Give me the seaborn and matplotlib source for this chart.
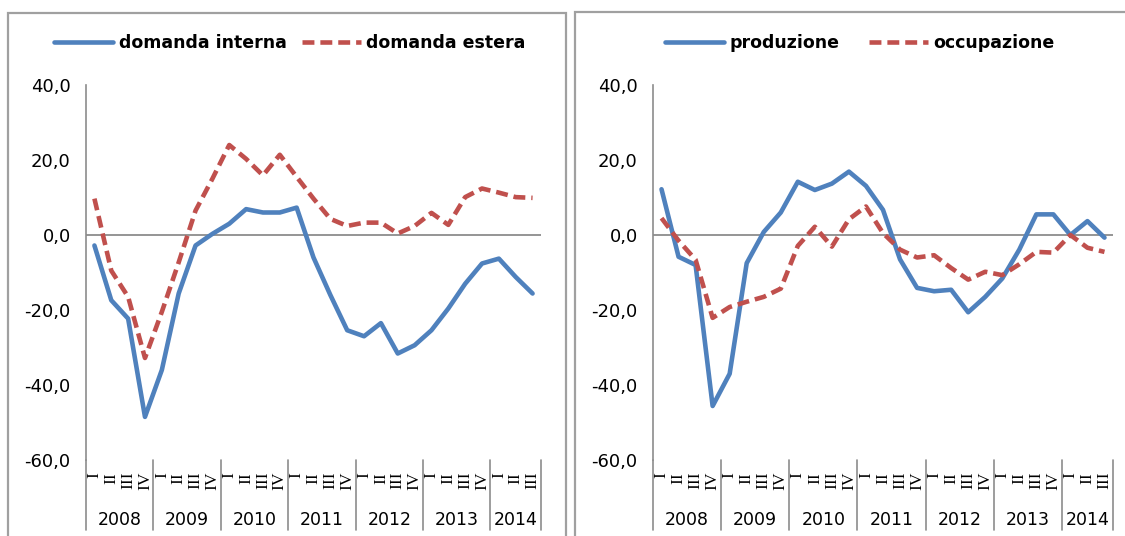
import numpy as np
import pandas as pd
import matplotlib
matplotlib.use("Agg")
import matplotlib.pyplot as plt
import matplotlib.transforms as mtransforms
from matplotlib.patches import Rectangle
from matplotlib.lines import Line2D
import seaborn as sns

# ---------------- data ----------------
years = ["2008", "2009", "2010", "2011", "2012", "2013", "2014"]
quarters_per_year = [4, 4, 4, 4, 4, 4, 3]
quarter_labels = ["I", "II", "III", "IV"] * 6 + ["I", "II", "III"]

domanda_interna = [-2.8, -17.4, -22.3, -48.5, -36.0, -15.6, -2.8, 0.3, 3.0, 6.9, 6.0, 6.0, 7.3, -6.0,
                   -16.0, -25.4, -27.0, -23.5, -31.6, -29.4, -25.4, -19.6, -13.0, -7.6, -6.3, -11.2, -15.6]
domanda_estera = [9.7, -9.5, -16.5, -32.8, -20.5, -7.3, 6.5, 15.0, 24.0, 20.3, 15.9, 21.4, 15.5, 9.7,
                  4.3, 2.4, 3.3, 3.3, 0.4, 2.4, 5.9, 2.7, 10.1, 12.4, 11.3, 10.1, 9.9]
produzione = [12.2, -5.8, -8.0, -45.6, -37.0, -7.5, 0.8, 6.0, 14.2, 12.0, 13.7, 16.9, 13.1, 6.7,
              -6.5, -14.1, -15.0, -14.6, -20.6, -16.5, -11.6, -3.9, 5.5, 5.5, 0.0, 3.7, -0.7]
occupazione = [4.5, -1.5, -6.6, -22.1, -19.2, -17.8, -16.5, -14.3, -2.9, 2.2, -3.1, 4.2, 7.6, 0.5,
               -3.9, -6.0, -5.4, -8.8, -11.9, -9.8, -10.7, -7.8, -4.5, -4.7, 0.0, -3.4, -4.5]

y_ticks = [-60, -40, -20, 0, 20, 40]

BLUE = "#4F81BD"
RED = "#C0504D"
GRID = "#8C8C8C"
FRAME = "#A0A0A0"

sns.set_theme(style="white")
plt.rcParams["font.family"] = ["DejaVu Sans"]
plt.rcParams["axes.unicode_minus"] = False
plt.rcParams["text.color"] = "black"

W, H = 1125, 536
fig = plt.figure(figsize=(W / 100, H / 100), dpi=100)
fig.patch.set_facecolor("white")


def rect(x0, x1, ytop, ybot):
    return [x0 / W, 1 - ybot / H, (x1 - x0) / W, (ybot - ytop) / H]


# panel frames
fig.add_artist(Rectangle((8 / W, -0.05), (566 - 8) / W, 1 + 0.05 - 13 / H,
                         transform=fig.transFigure, fill=False, ec=FRAME, lw=1.6))
fig.add_artist(Rectangle((575 / W, -0.05), 0.6, 1 + 0.05 - 12 / H,
                         transform=fig.transFigure, fill=False, ec=FRAME, lw=1.6))

ax1 = fig.add_axes(rect(86, 541, 85, 460))
ax2 = fig.add_axes(rect(653, 1113, 85, 460))

DASH = (2.6, 1.3)
LW = 3.3


def draw_panel(ax, s1, s2, n1, n2, legend_center, colspacing):
    x = np.arange(len(s1))
    df = pd.DataFrame({
        "q": np.concatenate([x, x]),
        "v": list(s1) + list(s2),
        "serie": [n1] * len(s1) + [n2] * len(s2),
    })
    sns.lineplot(data=df, x="q", y="v", hue="serie", style="serie",
                 palette={n1: BLUE, n2: RED}, dashes={n1: "", n2: DASH},
                 linewidth=LW, ax=ax, legend=False, zorder=3)
    ax.axhline(0, color=GRID, lw=1.3, zorder=1)

    ax.set_ylim(-60, 40)
    ax.set_yticks(y_ticks)
    ax.set_yticklabels([f"{v:.1f}".replace(".", ",") for v in y_ticks], fontsize=13, color="black")
    ax.set_xticks(x)
    ax.set_xticklabels(quarter_labels, rotation=90, fontsize=12.5,
                       family=["Liberation Serif"], color="black")
    ax.tick_params(axis="both", length=0)
    ax.tick_params(axis="y", pad=11)
    ax.tick_params(axis="x", pad=8.5)
    ax.set_xlabel("")
    ax.set_ylabel("")

    for s in ["top", "right", "bottom"]:
        ax.spines[s].set_visible(False)
    ax.spines["left"].set_color(GRID)
    ax.spines["left"].set_linewidth(1.2)

    # multi-level category separators and year labels
    bounds = np.concatenate([[0], np.cumsum(quarters_per_year)]) - 0.5
    for b in bounds:
        ax.axvline(b, ymin=-0.187, ymax=0.0, clip_on=False, color=GRID, lw=1.2)
    trans = mtransforms.blended_transform_factory(ax.transData, ax.transAxes)
    for i, yr in enumerate(years):
        c = (bounds[i] + bounds[i + 1]) / 2
        ax.text(c, -0.16, yr, transform=trans, ha="center", va="center",
                fontsize=12.5, color="black")
    ax.set_xlim(-0.5, len(s1) - 0.5)

    handles = [Line2D([], [], color=BLUE, lw=LW),
               Line2D([], [], color=RED, lw=LW, dashes=DASH)]
    fig.legend(handles, [n1, n2], loc="center", bbox_to_anchor=legend_center,
               bbox_transform=fig.transFigure, ncol=2, frameon=False,
               prop={"weight": "bold", "size": 12.5}, handlelength=3.4,
               handletextpad=0.3, columnspacing=colspacing, borderaxespad=0,
               labelcolor="black")


draw_panel(ax1, domanda_interna, domanda_estera, "domanda interna", "domanda estera",
           (290 / W, 1 - 43 / H), 0.9)
draw_panel(ax2, produzione, occupazione, "produzione", "occupazione",
           (860 / W, 1 - 43 / H), 1.7)

fig.savefig("out.png", dpi=100, facecolor="white")
